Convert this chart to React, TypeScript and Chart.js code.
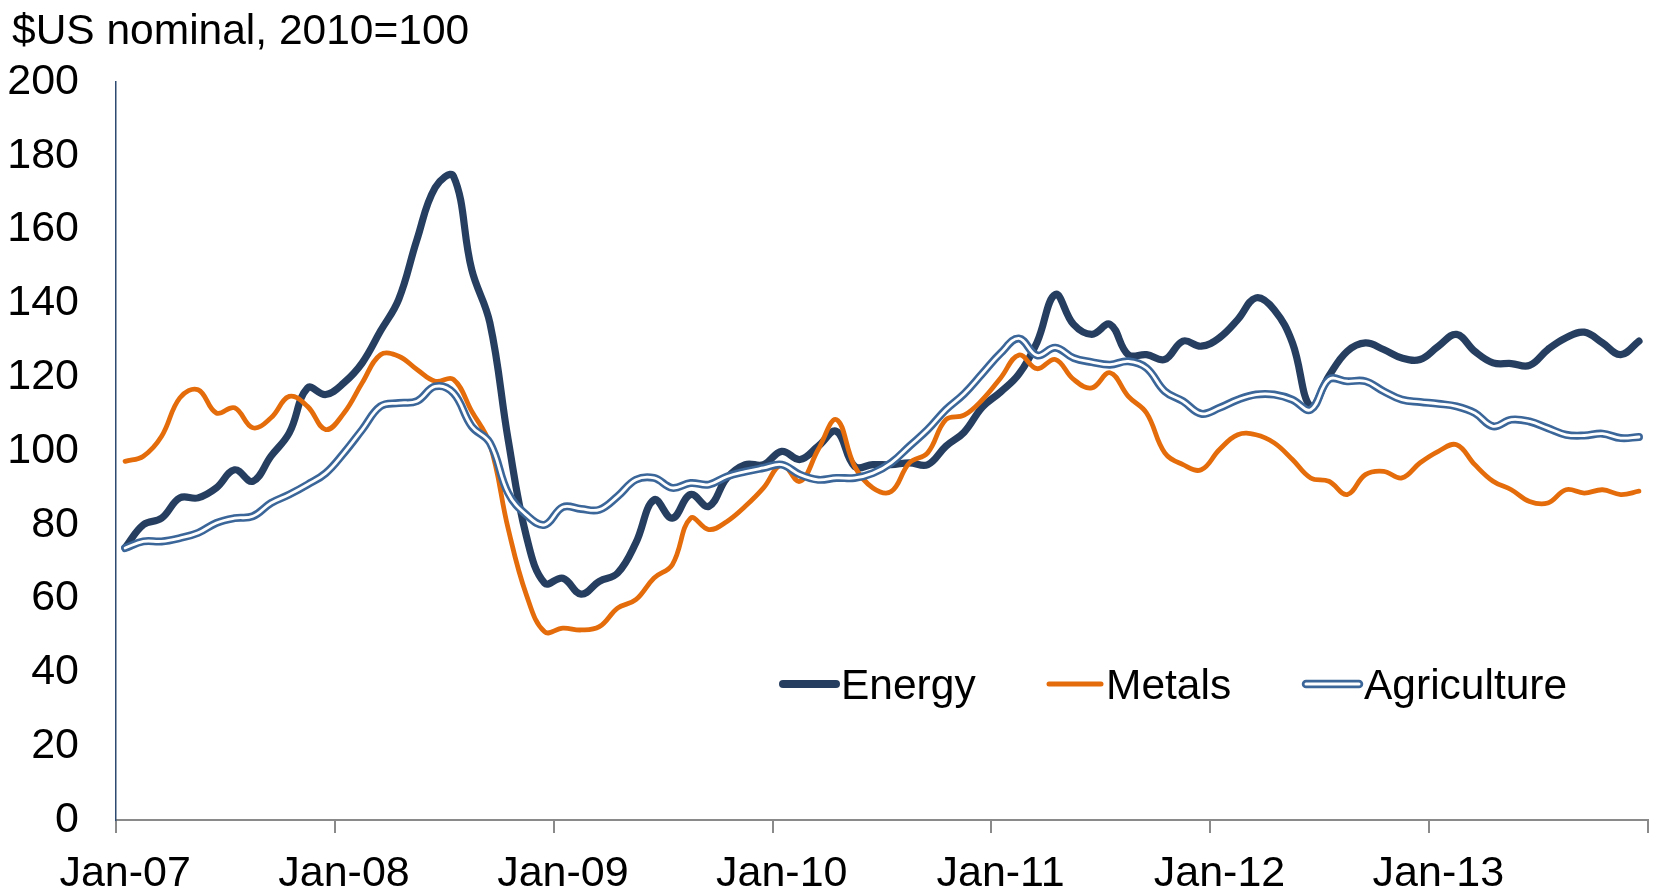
import React, { useEffect, useRef } from 'react';
import { Chart, registerables } from 'chart.js';

Chart.register(...registerables);

const TITLE = '$US nominal, 2010=100';
const MONTH_NAMES = ['Jan', 'Feb', 'Mar', 'Apr', 'May', 'Jun', 'Jul', 'Aug', 'Sep', 'Oct', 'Nov', 'Dec'];
const YEARS = ['07', '08', '09', '10', '11', '12', '13'];
const CATEGORIES: string[] = [];
YEARS.forEach((y) => MONTH_NAMES.forEach((m) => CATEGORIES.push(`${m}-${y}`)));

const Y_MIN = 0;
const Y_MAX = 200;
const Y_STEP = 20;

const ENERGY = [
  73.8, 80.0, 81.8, 87.3, 87.3, 90.0, 94.9, 91.8, 98.6, 104.9, 117.1, 115.3,
  118.5, 123.9, 132.5, 141.1, 157.3, 171.4, 174.5, 149.2, 134.7, 103.1, 76.9, 64.2,
  65.5, 61.2, 64.7, 66.9, 75.1, 86.8, 81.8, 88.2, 85.0, 92.7, 96.3, 96.3,
  99.9, 97.7, 101.3, 105.3, 95.8, 96.3, 96.3, 96.8, 96.3, 101.3, 105.1, 111.9,
  116.0, 120.8, 129.5, 142.4, 134.3, 131.6, 134.3, 126.1, 126.1, 124.8, 129.8, 128.4,
  130.7, 135.6, 141.5, 138.3, 129.3, 112.0, 120.3, 127.0, 129.3, 127.5, 125.2, 124.8,
  128.4, 131.6, 127.0, 123.9, 123.7, 123.2, 127.5, 130.7, 132.2, 129.3, 126.1, 129.8,
];

const METALS = [
  97.2, 98.6, 104.0, 114.4, 116.6, 110.3, 111.7, 106.3, 109.0, 114.8, 112.1, 105.8,
  110.3, 118.5, 126.1, 125.7, 122.1, 118.9, 119.4, 110.8, 101.8, 79.0, 61.0, 51.0,
  52.0, 51.5, 52.4, 57.4, 59.7, 65.6, 69.2, 81.8, 78.7, 80.9, 85.0, 90.0,
  96.3, 91.8, 100.4, 108.5, 95.8, 90.0, 89.0, 96.8, 99.5, 108.5, 109.7, 113.9,
  119.8, 126.0, 122.3, 124.8, 119.4, 117.1, 121.2, 114.8, 110.3, 99.5, 96.3, 94.9,
  100.4, 104.4, 104.4, 102.2, 97.7, 92.7, 91.8, 88.2, 93.6, 94.5, 92.7, 96.8,
  99.9, 101.7, 96.3, 91.8, 89.5, 86.3, 85.9, 89.5, 88.6, 89.5, 88.2, 89.1,
];

const AGRICULTURE = [
  73.7, 75.5, 75.5, 76.4, 77.8, 80.5, 81.8, 82.3, 85.9, 88.2, 90.9, 94.0,
  99.5, 105.8, 112.1, 113.0, 113.5, 117.5, 115.7, 106.7, 102.2, 88.6, 82.7, 80.0,
  84.8, 84.3, 84.1, 87.7, 92.2, 92.7, 90.0, 91.3, 90.9, 93.1, 94.4, 95.4,
  96.3, 93.6, 92.2, 92.7, 92.7, 94.0, 96.8, 101.3, 105.8, 111.2, 115.5, 121.0,
  126.5, 130.5, 125.9, 128.0, 125.2, 124.1, 123.4, 124.3, 122.5, 116.2, 113.5, 110.1,
  111.7, 113.9, 115.3, 115.3, 113.9, 111.2, 119.4, 118.9, 118.9, 116.2, 113.9, 113.3,
  112.8, 112.1, 110.3, 106.7, 108.5, 108.0, 106.2, 104.4, 104.2, 104.7, 103.5, 103.8,
];

const SERIES_NAMES = ['Energy', 'Metals', 'Agriculture'];

const FONT = "'Liberation Sans', Arial, sans-serif";
const C_ENERGY = '#263F61';
const C_METALS = '#E46C0A';
const C_AGRI = '#3B6699';

const overlayPlugin = {
  id: 'overlay',
  afterDraw(chart: any) {
    const ctx = chart.ctx as CanvasRenderingContext2D;
    ctx.save();
    ctx.fillStyle = '#000';
    ctx.font = `42.5px ${FONT}`;
    ctx.textAlign = 'left';
    ctx.textBaseline = 'alphabetic';
    ctx.fillText(TITLE, 12, 44);

    ctx.font = `42.5px ${FONT}`;
    const ly = 684;
    const tb = 699;
    const items = [
      { x0: 783, x1: 836, tx: 841, name: SERIES_NAMES[0], kind: 'energy' },
      { x0: 1049, x1: 1101, tx: 1106, name: SERIES_NAMES[1], kind: 'metals' },
      { x0: 1306, x1: 1359, tx: 1364, name: SERIES_NAMES[2], kind: 'agri' },
    ];
    ctx.lineCap = 'round';
    items.forEach((it) => {
      const stroke = (color: string, w: number) => {
        ctx.beginPath();
        ctx.moveTo(it.x0, ly);
        ctx.lineTo(it.x1, ly);
        ctx.strokeStyle = color;
        ctx.lineWidth = w;
        ctx.stroke();
      };
      if (it.kind === 'energy') stroke(C_ENERGY, 8);
      else if (it.kind === 'metals') stroke(C_METALS, 5);
      else {
        stroke(C_AGRI, 8.5);
        stroke('#ffffff', 3);
      }
      ctx.fillStyle = '#000';
      ctx.fillText(it.name, it.tx, tb);
    });
    ctx.restore();
  },
};

export default function App() {
  const ref = useRef<HTMLCanvasElement | null>(null);

  useEffect(() => {
    if (!ref.current) return;
    Chart.defaults.font.family = FONT;
    const common = {
      pointRadius: 0,
      pointHoverRadius: 0,
      tension: 0.4,
      fill: false,
      borderCapStyle: 'round' as const,
      borderJoinStyle: 'round' as const,
    };
    const chart = new Chart(ref.current, {
      type: 'line',
      data: {
        labels: CATEGORIES,
        datasets: [
          { ...common, label: SERIES_NAMES[0], data: ENERGY, borderColor: C_ENERGY, borderWidth: 7.2, order: 3 },
          { ...common, label: SERIES_NAMES[1], data: METALS, borderColor: C_METALS, borderWidth: 4.8, order: 2 },
          { ...common, label: SERIES_NAMES[2], data: AGRICULTURE, borderColor: C_AGRI, borderWidth: 8, order: 1 },
          { ...common, label: SERIES_NAMES[2] + ' inner', data: AGRICULTURE, borderColor: '#ffffff', borderWidth: 2.8, order: 0 },
        ],
      },
      options: {
        responsive: false,
        animation: false,
        events: [],
        layout: { padding: { top: 82, right: 2, left: 0, bottom: 0 } },
        plugins: {
          legend: { display: false },
          tooltip: { enabled: false },
          title: { display: false },
        },
        scales: {
          x: {
            type: 'category',
            offset: true,
            afterFit: (s: any) => {
              s.height = 72;
            },
            grid: {
              display: true,
              offset: true,
              drawOnChartArea: false,
              drawTicks: true,
              tickLength: 13,
              lineWidth: 2,
              color: (c: any) => (c.index === undefined || c.index % 12 === 0 ? '#8a8a8a' : 'rgba(0,0,0,0)'),
            },
            border: { display: true, color: '#8a8a8a', width: 2 },
            ticks: {
              autoSkip: false,
              maxRotation: 0,
              minRotation: 0,
              padding: 15,
              color: '#000',
              font: { size: 43, family: FONT },
              callback: (_v: any, i: number) => (i % 12 === 0 ? CATEGORIES[i] : ''),
            },
          },
          y: {
            min: Y_MIN,
            max: Y_MAX,
            afterFit: (s: any) => {
              s.width = 116;
            },
            grid: { display: true, drawOnChartArea: false, drawTicks: false, color: 'rgba(0,0,0,0)' },
            border: { display: true, color: '#2E4A70', width: 1.5 },
            ticks: {
              stepSize: Y_STEP,
              padding: 37,
              color: '#000',
              font: { size: 43, family: FONT },
            },
          },
        },
      },
      plugins: [overlayPlugin],
    });
    return () => chart.destroy();
  }, []);

  return (
    <div style={{ position: 'fixed', left: 0, top: 0, width: 1654, height: 892, background: '#fff' }}>
      <canvas ref={ref} width={1654} height={892} style={{ display: 'block', width: 1654, height: 892 }} />
    </div>
  );
}
